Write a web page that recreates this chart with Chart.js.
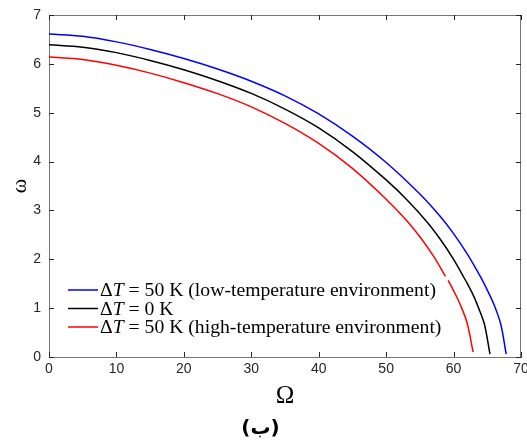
<!DOCTYPE html>
<html><head><meta charset="utf-8">
<script src="https://cdn.jsdelivr.net/npm/chart.js@4/dist/chart.umd.min.js"></script>
<style>html,body{margin:0;padding:0;background:#fff;overflow:hidden}#wrap{width:527px;height:441px}</style>
</head><body><div id="wrap"><canvas id="c" width="527" height="441"></canvas></div>
<script>
// ---- data ----
const xTicks = [0, 10, 20, 30, 40, 50, 60, 70];
const yTicks = [0, 1, 2, 3, 4, 5, 6, 7];

const blueOmegaBig = [0, 5, 10, 15, 20, 25, 30, 35, 40, 45, 50, 55, 58, 60, 62, 64, 65, 66, 67, 67.8];
const blueOmega    = [6.61, 6.565, 6.45, 6.295, 6.11, 5.895, 5.645, 5.345, 4.975, 4.52, 3.98, 3.335, 2.88, 2.525, 2.115, 1.64, 1.37, 1.07, 0.67, 0.06];

const blackOmegaBig = [0, 5, 10, 15, 20, 25, 30, 35, 40, 45, 50, 53, 56, 58, 60, 62, 63, 64, 64.6, 65.4];
const blackOmega    = [6.39, 6.34, 6.23, 6.07, 5.88, 5.655, 5.395, 5.075, 4.69, 4.205, 3.625, 3.23, 2.775, 2.415, 2.0, 1.51, 1.24, 0.90, 0.66, 0.06];

const redOmegaBig = [0, 5, 10, 15, 20, 25, 30, 35, 40, 45, 50, 53, 55, 57, 58.8, 59, 59.2, 60, 61, 62, 62.9];
const redOmega    = [6.14, 6.09, 5.97, 5.81, 5.615, 5.39, 5.12, 4.78, 4.37, 3.86, 3.23, 2.80, 2.46, 2.07, 1.65, null, 1.57, 1.36, 1.07, 0.70, 0.10];

const legendSuffixes = [' = 50 K (low-temperature environment)', ' = 0 K', ' = 50 K (high-temperature environment)'];
const seriesLabels = legendSuffixes.map(s => '\u0394T' + s);

const xTitle = '\u03A9';
const yTitle = '\u03C9';
const caption = '(\u0628)';

function pts(xs, ys) { return xs.map((x, i) => ({ x: x, y: ys[i] })); }

// inward ticks + box
const boxTicks = {
  id: 'boxTicks',
  afterDraw(chart) {
    const { ctx, chartArea: a, scales } = chart;
    ctx.save();
    ctx.strokeStyle = '#777';
    ctx.lineWidth = 1;
    ctx.beginPath();
    ctx.moveTo(a.left, a.top + 0.5); ctx.lineTo(a.right, a.top + 0.5);
    ctx.moveTo(a.right - 0.5, a.top); ctx.lineTo(a.right - 0.5, a.bottom);
    ctx.stroke();
    ctx.strokeStyle = '#262626';
    const L = 5;
    ctx.beginPath();
    xTicks.forEach(v => {
      const px = Math.round(scales.x.getPixelForValue(v)) + 0.5;
      ctx.moveTo(px, a.bottom); ctx.lineTo(px, a.bottom - L);
      ctx.moveTo(px, a.top); ctx.lineTo(px, a.top + L);
    });
    yTicks.forEach(v => {
      const py = Math.round(scales.y.getPixelForValue(v)) + 0.5;
      ctx.moveTo(a.left, py); ctx.lineTo(a.left + L, py);
      ctx.moveTo(a.right, py); ctx.lineTo(a.right - L, py);
    });
    ctx.stroke();
    ctx.restore();
  }
};

// legend drawn inside the plot (no frame)
const innerLegend = {
  id: 'innerLegend',
  afterDatasetsDraw(chart) {
    const { ctx, chartArea: a } = chart;
    ctx.save();
    const x0 = a.left + 19, x1 = a.left + 49, tx = a.left + 51;
    const rows = [a.bottom - 67, a.bottom - 48.5, a.bottom - 30];
    const f = '19.7px "Liberation Serif"';
    chart.data.datasets.forEach((ds, i) => {
      const y = rows[i];
      ctx.strokeStyle = ds.borderColor;
      ctx.lineWidth = 1.5;
      ctx.beginPath(); ctx.moveTo(x0, y); ctx.lineTo(x1, y); ctx.stroke();
      ctx.fillStyle = '#000';
      ctx.textBaseline = 'middle';
      let x = tx;
      ctx.font = f;
      ctx.fillText('\u0394', x, y + 1); x += ctx.measureText('\u0394').width;
      ctx.font = 'italic ' + f;
      ctx.fillText('T', x, y + 1); x += ctx.measureText('T').width;
      ctx.font = f;
      ctx.fillText(legendSuffixes[i], x, y + 1);
    });
    ctx.restore();
  }
};

new Chart(document.getElementById('c'), {
  type: 'scatter',
  data: {
    datasets: [
      { label: seriesLabels[0], data: pts(blueOmegaBig, blueOmega), borderColor: '#0000ff' },
      { label: seriesLabels[1], data: pts(blackOmegaBig, blackOmega), borderColor: '#000000' },
      { label: seriesLabels[2], data: pts(redOmegaBig, redOmega), borderColor: '#ff0000' }
    ].map(d => Object.assign(d, { showLine: true, pointRadius: 0, borderWidth: 1.5, tension: 0.35, spanGaps: false, fill: false }))
  },
  options: {
    responsive: false,
    animation: false,
    devicePixelRatio: 1,
    layout: { padding: { top: 15, right: 6, left: 0, bottom: 0 } },
    plugins: {
      legend: { display: false },
      tooltip: { enabled: false },
      title: {
        display: true, text: caption, position: 'bottom', color: '#000',
        font: { family: 'DejaVu Sans', size: 20, weight: 'bold', lineHeight: 1.2 },
        padding: { top: 0, bottom: 0 }
      }
    },
    scales: {
      x: {
        type: 'linear', min: 0, max: 70,
        afterBuildTicks(s) { s.ticks = xTicks.map(v => ({ value: v })); },
        ticks: { color: '#262626', font: { family: 'Liberation Sans', size: 14 }, padding: 4, maxRotation: 0, autoSkip: false },
        grid: { display: false, drawTicks: false },
        border: { display: true, color: '#777' },
        title: { display: true, text: xTitle, color: '#000', font: { family: 'Liberation Serif', size: 25, lineHeight: 1.2 }, padding: { top: 0, bottom: 6 } },
        afterFit(s) { s.height = 60; s.paddingLeft = 0; s.paddingRight = 0; }
      },
      y: {
        type: 'linear', min: 0, max: 7,
        afterBuildTicks(s) { s.ticks = yTicks.map(v => ({ value: v })); },
        ticks: { color: '#262626', font: { family: 'Liberation Sans', size: 14 }, padding: 8 },
        grid: { display: false, drawTicks: false },
        border: { display: true, color: '#777' },
        title: { display: true, text: yTitle, color: '#000', font: { family: 'Liberation Serif', size: 22, lineHeight: 1.2 }, padding: { top: 7, bottom: 0 } },
        afterFit(s) { s.width = 49; s.paddingTop = 0; s.paddingBottom = 0; }
      }
    }
  },
  plugins: [boxTicks, innerLegend]
});
</script>
</body></html>
